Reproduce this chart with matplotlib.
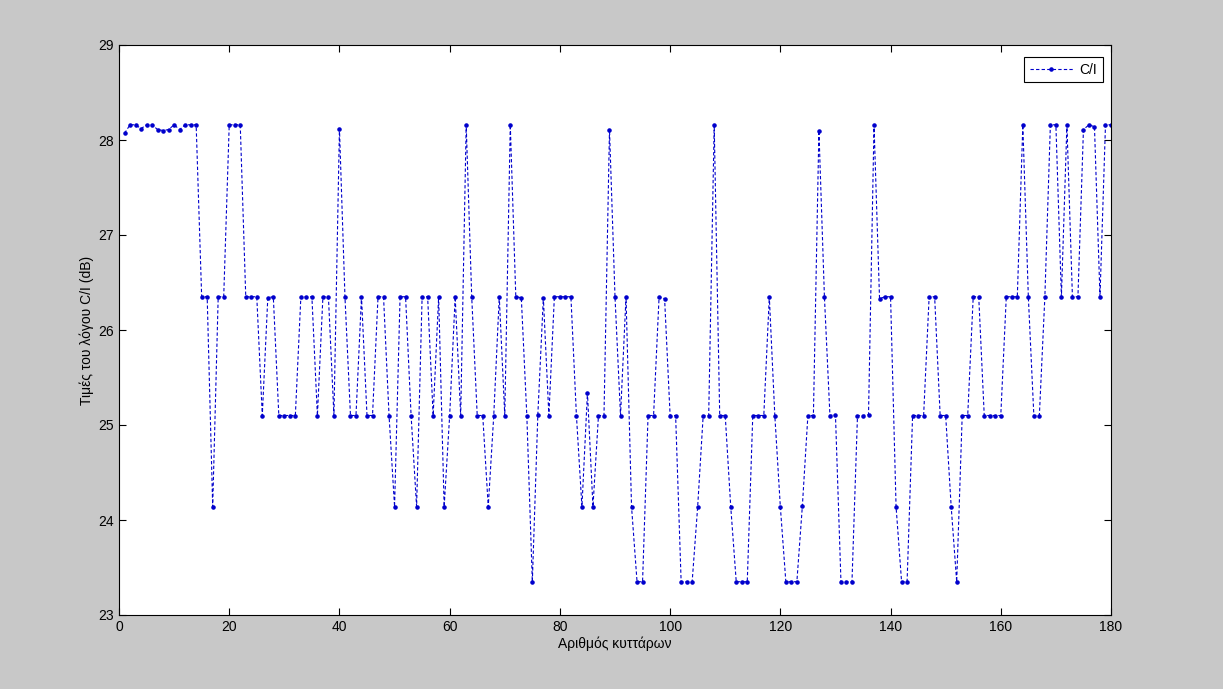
import numpy as np
import matplotlib
matplotlib.use('Agg')
from matplotlib import pyplot as plt

### C/I values per cell
cells = np.arange(1, 181)
ci_db = [
    28.07, 28.16, 28.16, 28.12, 28.16, 28.16, 28.11, 28.10, 28.11, 28.16,
    28.11, 28.16, 28.16, 28.16, 26.35, 26.35, 24.14, 26.35, 26.35, 28.16,
    28.16, 28.16, 26.35, 26.35, 26.35, 25.10, 26.34, 26.35, 25.10, 25.10,
    25.10, 25.10, 26.35, 26.35, 26.35, 25.10, 26.35, 26.35, 25.10, 28.12,
    26.35, 25.10, 25.10, 26.35, 25.10, 25.10, 26.35, 26.35, 25.10, 24.14,
    26.35, 26.35, 25.10, 24.14, 26.35, 26.35, 25.10, 26.35, 24.14, 25.10,
    26.35, 25.10, 28.16, 26.35, 25.10, 25.10, 24.14, 25.10, 26.35, 25.10,
    28.16, 26.35, 26.34, 25.10, 23.35, 25.11, 26.34, 25.10, 26.35, 26.35,
    26.35, 26.35, 25.10, 24.14, 25.34, 24.14, 25.10, 25.10, 28.11, 26.35,
    25.10, 26.35, 24.14, 23.35, 23.35, 25.10, 25.10, 26.35, 26.33, 25.10,
    25.10, 23.35, 23.35, 23.35, 24.14, 25.10, 25.10, 28.16, 25.10, 25.10,
    24.14, 23.35, 23.35, 23.35, 25.10, 25.10, 25.10, 26.35, 25.10, 24.14,
    23.35, 23.35, 23.35, 24.15, 25.10, 25.10, 28.10, 26.35, 25.10, 25.11,
    23.35, 23.35, 23.35, 25.10, 25.10, 25.11, 28.16, 26.33, 26.35, 26.35,
    24.14, 23.35, 23.35, 25.10, 25.10, 25.10, 26.35, 26.35, 25.10, 25.10,
    24.14, 23.35, 25.10, 25.10, 26.35, 26.35, 25.10, 25.10, 25.10, 25.10,
    26.35, 26.35, 26.35, 28.16, 26.35, 25.10, 25.10, 26.35, 28.16, 28.16,
    26.35, 28.16, 26.35, 26.35, 28.11, 28.16, 28.14, 26.35, 28.16, 28.16,
]
xticks = [0, 20, 40, 60, 80, 100, 120, 140, 160, 180]
yticks = [23, 24, 25, 26, 27, 28, 29]

plt.rcParams['font.family'] = ['Liberation Sans', 'DejaVu Sans']
plt.rcParams['font.size'] = 10

fig = plt.figure(figsize=(12.23, 6.89), dpi=100, facecolor='#c8c8c8')
ax = fig.add_axes([119/1223, 1-615/689, (1111-119)/1223, (615-45)/689])
ax.set_facecolor('white')

ax.plot(cells, ci_db, linestyle=(0, (3, 2)), color='#0000cc', linewidth=0.8,
        marker='.', markersize=4.5, label='C/I')

ax.set_xlim(0, 180)
ax.set_ylim(23, 29)
ax.set_xticks(xticks)
ax.set_yticks(yticks)
ax.tick_params(direction='in', top=True, right=True, length=5, width=0.8)
for s in ax.spines.values():
    s.set_linewidth(0.8)

ax.set_xlabel('Αριθμός κυττάρων', labelpad=2)
ax.set_ylabel('Τιμές του λόγου C/I (dB)', labelpad=3)

# legend box sits a little inside the top-right corner
leg = ax.legend(loc='upper right', bbox_to_anchor=(1 - 8/992, 1 - 12/570),
                borderaxespad=0, fancybox=False, edgecolor='black',
                handlelength=3.1, handletextpad=0.5, framealpha=1)
leg.get_frame().set_linewidth(0.8)

fig.savefig('out.png', dpi=100, facecolor=fig.get_facecolor())
